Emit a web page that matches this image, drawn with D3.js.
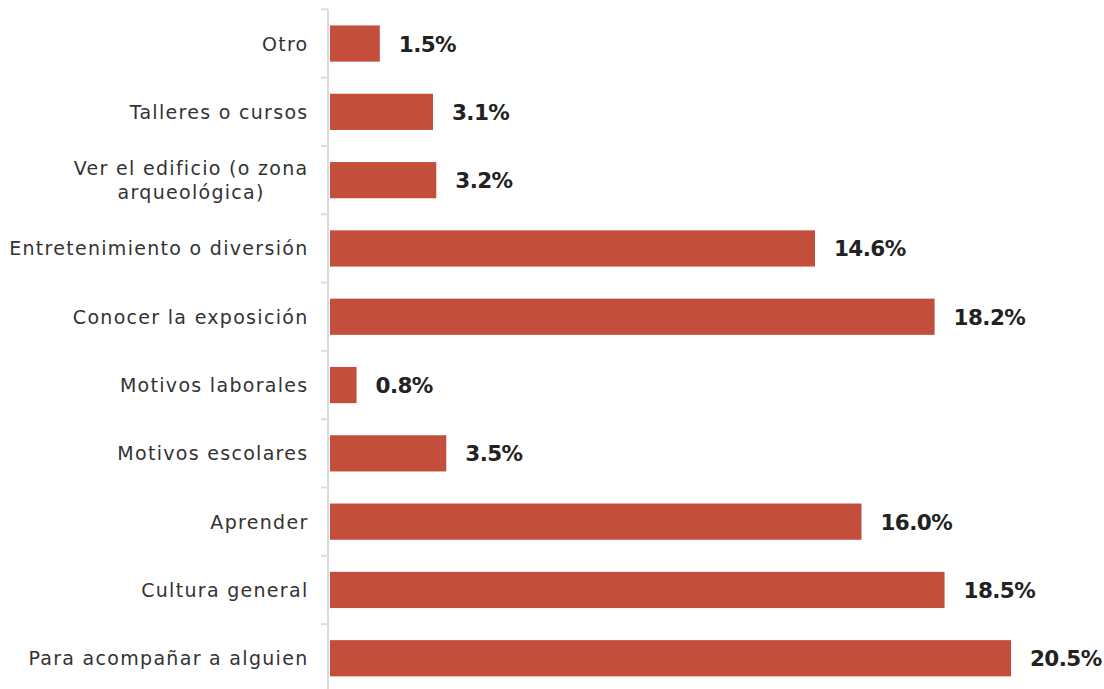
<!DOCTYPE html>
<html><head><meta charset="utf-8">
<script src="https://cdn.jsdelivr.net/npm/d3@7"></script>
<style>body{margin:0;background:#fff}svg{display:block}</style>
</head><body>
<svg id="c" width="1104" height="689"></svg>
<script>
const categories = ["Otro","Talleres o cursos","Ver el edificio (o zona\narqueológica)","Entretenimiento o diversión","Conocer la exposición","Motivos laborales","Motivos escolares","Aprender","Cultura general","Para acompañar a alguien"];
const values = [1.5,3.1,3.2,14.6,18.2,0.8,3.5,16.0,18.5,20.5];
const valueLabels = ["1.5%","3.1%","3.2%","14.6%","18.2%","0.8%","3.5%","16.0%","18.5%","20.5%"];

const svg = d3.select("#c");
const x0 = 330;
const x = d3.scaleLinear().domain([0,20.5]).range([x0,1011]);
const y = d3.scaleBand().domain(categories).range([9.4,692.4]).paddingInner(0.47).paddingOuter(0.235);

const ax = svg.append("g").attr("transform","translate(328,0)");
ax.append("line").attr("x1",0).attr("x2",0).attr("y1",9).attr("y2",689).attr("stroke","#dcdcdc").attr("stroke-width",2);
const step = y.step();
const tickYs = categories.map((c,i)=> y(c) - y.paddingInner()*step/2 ).concat([y(categories[categories.length-1])+y.bandwidth()+y.paddingInner()*step/2]);
ax.selectAll("line.t").data(tickYs).join("line").attr("class","t")
  .attr("x1",-7).attr("x2",0).attr("y1",d=>d).attr("y2",d=>d).attr("stroke","#dcdcdc").attr("stroke-width",2);

svg.selectAll("rect.bar").data(categories).join("rect").attr("class","bar")
  .attr("x",x0).attr("y",d=>y(d)).attr("height",y.bandwidth())
  .attr("width",(d,i)=>x(values[i])-x0).attr("fill","#C44E3C");

svg.selectAll("text.v").data(categories).join("text").attr("class","v")
  .attr("x",(d,i)=>x(values[i])+19).attr("y",d=>y(d)+y.bandwidth()/2+8)
  .attr("font-family","'DejaVu Sans', sans-serif").attr("font-weight","bold").attr("font-size",21.5)
  .attr("fill","#222").attr("letter-spacing","-0.6")
  .text((d,i)=>valueLabels[i]);

categories.forEach((c,i)=>{
  const lines = c.split("\n");
  const cy = y(c)+y.bandwidth()/2;
  const lh = 24.5;
  const g = svg.append("g");
  const ts = lines.map((l,j)=> g.append("text")
     .attr("y", cy + (j-(lines.length-1)/2)*lh + 7)
     .attr("font-family","'DejaVu Sans', sans-serif").attr("font-size",19).attr("fill","#333")
     .attr("letter-spacing","1.3")
     .text(l));
  const w = d3.max(ts, t=>t.node().getComputedTextLength());
  ts.forEach(t=>t.attr("text-anchor","middle").attr("x",308.5-w/2));
});
</script>
</body></html>
